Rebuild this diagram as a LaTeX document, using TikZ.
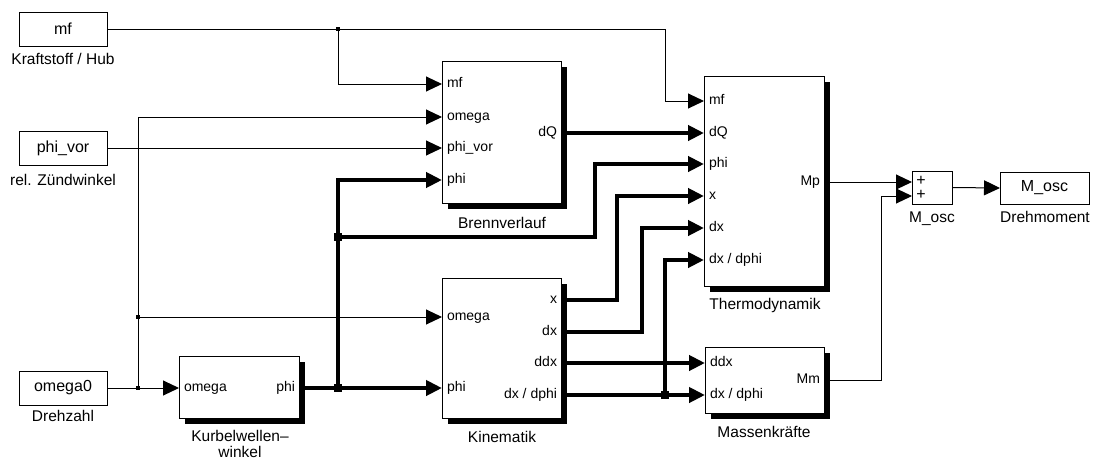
\documentclass[tikz,border=0pt]{standalone}
\usepackage{fontspec}
\setmainfont{Liberation Sans}
\usetikzlibrary{arrows.meta,shadows}
\newcommand\portin[4]{\coordinate (#1) at (#2,#3); \node[port,anchor=west] at ([xshift=5pt]#1) {#4};}
\newcommand\portout[4]{\coordinate (#1) at (#2,#3); \node[port,anchor=east] at ([xshift=-4pt]#1) {#4};}
\begin{document}
\begin{tikzpicture}[x=1pt,y=-1pt,
  every node/.style={inner sep=0pt, outer sep=0pt},
  arr/.style={-{Triangle[length=16pt,width=15pt]}},
  wire/.style={line width=1pt},
  bus/.style={line width=4pt},
  blk/.style={draw, fill=white, line width=1pt, anchor=north west,
    general shadow={fill=black, shadow xshift=6pt, shadow yshift=-6pt}},
  src/.style={draw, fill=white, line width=1pt, minimum width=88pt, minimum height=34pt,
    font=\fontsize{16}{17}\selectfont},
  lab/.style={font=\fontsize{15.5}{15.5}\selectfont, align=center},
  port/.style={font=\fontsize{14}{15}\selectfont, text height=10.5pt, text depth=3.5pt},
  jdot/.style={fill, minimum size=4pt},
  jbig/.style={fill, minimum size=8pt}]
\useasboundingbox (0,0) rectangle (1097,461);

% sources
\node[src] (mf) at (63,29) {mf};
\node[lab] at (63,59) {Kraftstoff / Hub};
\node[src] (phivor) at (63,148) {phi\_vor};
\node[lab] at (63,180) {rel. Zündwinkel};
\node[src] (om0) at (63,388) {omega0};
\node[lab] at (63,416) {Drehzahl};

% blocks
\node[blk, minimum width=119pt, minimum height=142pt] (brenn) at (442,61) {};
\node[lab] at (502,223) {Brennverlauf};
\node[blk, minimum width=120pt, minimum height=210pt] (thermo) at (704,76) {};
\node[lab] at (765,305) {Thermodynamik};
\node[blk, minimum width=120pt, minimum height=62pt] (kurb) at (179,356) {};
\node[lab] at (240,444) {Kurbelwellen–\\winkel};
\node[blk, minimum width=119pt, minimum height=140pt] (kin) at (442,278) {};
\node[lab] at (502,437) {Kinematik};
\node[blk, minimum width=119pt, minimum height=66pt] (mass) at (705,347) {};
\node[lab] at (764,432) {Massenkräfte};
\node[draw, fill=white, line width=1pt, minimum width=40pt, minimum height=33pt, anchor=north west] (sum) at (912,171) {};
\node[lab] at (932,219) {M\_osc};
\node[src, minimum width=89pt, minimum height=32pt] (out) at (1044.5,188) {M\_osc};
\node[lab] at (1045,217) {Drehmoment};

% ports
\portin{b-mf}{442}{84}{mf}
\portin{b-om}{442}{117}{omega}
\portin{b-phivor}{442}{148}{phi\_vor}
\portin{b-phi}{442}{180}{phi}
\portout{b-dq}{561}{133}{dQ}
\portin{t-mf}{704}{101}{mf}
\portin{t-dq}{704}{133}{dQ}
\portin{t-phi}{704}{164}{phi}
\portin{t-x}{704}{196}{x}
\portin{t-dx}{704}{228}{dx}
\portin{t-dxdphi}{704}{260}{dx / dphi}
\portout{t-mp}{824}{182}{Mp}
\portin{k-om}{179}{388}{omega}
\portout{k-phi}{299}{388}{phi}
\portin{n-om}{442}{317}{omega}
\portin{n-phi}{442}{388}{phi}
\portout{n-x}{561}{300}{x}
\portout{n-dx}{561}{332}{dx}
\portout{n-ddx}{561}{363}{ddx}
\portout{n-dxdphi}{561}{395}{dx / dphi}
\portin{m-ddx}{705}{363}{ddx}
\portin{m-dxdphi}{705}{395}{dx / dphi}
\portout{m-mm}{824}{380}{Mm}
\coordinate (s-1) at (912,182);
\coordinate (s-2) at (912,196);
\node[port, font=\fontsize{16}{16}\selectfont] at (921,182) {+};
\node[port, font=\fontsize{16}{16}\selectfont] at (921,196) {+};

% junctions
\node[jdot] (j1) at (338,29) {};
\node[jdot] (j2) at (138,388) {};
\node[jdot] (j3) at (138,317) {};
\node[jbig] (j4) at (338,388) {};
\node[jbig] (j5) at (338,237) {};
\node[jbig] (j6) at (665,395) {};

% thin signals
\draw[wire] (mf.east) -- (j1.center);
\draw[wire,arr] (j1.center) -- (665,29) -- (665,101) -- (t-mf);
\draw[wire,arr] (j1.center) |- (b-mf);
\draw[wire,arr] (phivor.east) -- (b-phivor);
\draw[wire] (om0.east) -- (j2.center);
\draw[wire,arr] (j2.center) -- (k-om);
\draw[wire,arr] (j2.center) |- (b-om);
\draw[wire,arr] (j3.center) -- (n-om);
\draw[wire,arr] (t-mp) -- (s-1);
\draw[wire,arr] (m-mm) -- (881,380) |- (s-2);
\draw[wire,arr] (sum.east) -- (out.west);

% bus signals
\draw[bus] (k-phi) -- (j4.center);
\draw[bus,arr] (j4.center) -- (n-phi);
\draw[bus,arr] (j4.center) |- (b-phi);
\draw[bus,arr] (j5.center) -- (595,237) -- (595,164) -- (t-phi);
\draw[bus,arr] (b-dq) -- (t-dq);
\draw[bus,arr] (n-x) -- (617,300) -- (617,196) -- (t-x);
\draw[bus,arr] (n-dx) -- (642,332) -- (642,228) -- (t-dx);
\draw[bus,arr] (n-ddx) -- (m-ddx);
\draw[bus] (n-dxdphi) -- (j6.center);
\draw[bus,arr] (j6.center) -- (m-dxdphi);
\draw[bus,arr] (j6.center) |- (t-dxdphi);
\end{tikzpicture}
\end{document}
